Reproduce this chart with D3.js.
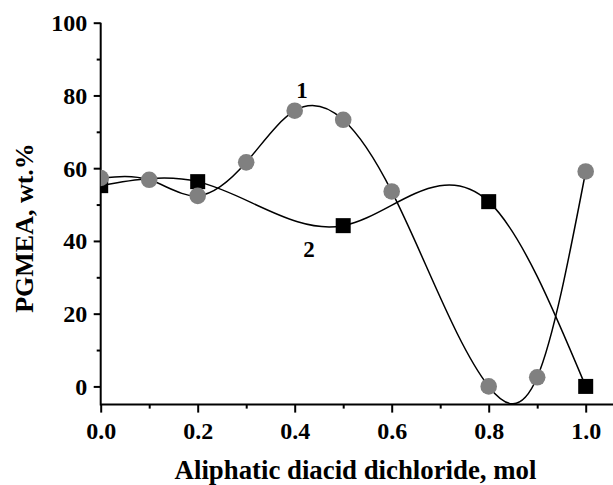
<!DOCTYPE html>
<html>
<head>
<meta charset="utf-8">
<script src="https://cdn.jsdelivr.net/npm/d3@7"></script>
<style>
  body { margin: 0; background: #fff; }
  text { font-family: "Liberation Serif", "Times New Roman", serif; font-weight: bold; }
</style>
</head>
<body>
<div id="chart"></div>
<script>
// series 1 (grey circles) and series 2 (black squares)
const x1 = [0, 0.1, 0.2, 0.3, 0.4, 0.5, 0.6, 0.8, 0.9, 1.0];
const y1 = [57.3, 56.8, 52.4, 61.6, 75.8, 73.3, 53.6, 0, 2.5, 59.1];
const x2 = [0, 0.2, 0.5, 0.8, 1.0];
const y2 = [55.2, 56.3, 44.2, 50.8, 0];
const xMajor = [0, 0.2, 0.4, 0.6, 0.8, 1.0];
const xMinor = [0.1, 0.3, 0.5, 0.7, 0.9];
const yMajor = [0, 20, 40, 60, 80, 100];
const yMinor = [10, 30, 50, 70, 90];

const width = 613, height = 485;
const plotBox = {left: 100.7, right: 585.7, top: 22.7, bottom: 404.6};

// cubic spline through the points with x as the parameter (like Origin's "Spline" line)
function curveSplineX(context) {
  let xs, ys;
  return {
    areaStart() {}, areaEnd() {},
    lineStart() { xs = []; ys = []; },
    point(px, py) { xs.push(+px); ys.push(+py); },
    lineEnd() {
      const n = xs.length;
      if (!n) return;
      context.moveTo(xs[0], ys[0]);
      if (n === 1) return;
      const h = [];
      for (let i = 0; i < n - 1; i++) h[i] = xs[i + 1] - xs[i];
      const M = new Array(n).fill(0);
      if (n > 2) {
        // tridiagonal solve for the inner second derivatives
        const a = [], b = [], c = [], r = [];
        for (let i = 1; i < n - 1; i++) {
          a.push(h[i - 1]);
          b.push(2 * (h[i - 1] + h[i]));
          c.push(h[i]);
          r.push(6 * ((ys[i + 1] - ys[i]) / h[i] - (ys[i] - ys[i - 1]) / h[i - 1]));
        }
        const m = b.length;
        for (let i = 1; i < m; i++) {
          const w = a[i] / b[i - 1];
          b[i] -= w * c[i - 1];
          r[i] -= w * r[i - 1];
        }
        const sol = new Array(m);
        sol[m - 1] = r[m - 1] / b[m - 1];
        for (let i = m - 2; i >= 0; i--) sol[i] = (r[i] - c[i] * sol[i + 1]) / b[i];
        for (let i = 0; i < m; i++) M[i + 1] = sol[i];
      }
      for (let i = 0; i < n - 1; i++) {
        const hh = h[i], s = (ys[i + 1] - ys[i]) / hh;
        const m0 = s - hh * (2 * M[i] + M[i + 1]) / 6;
        const m1 = s + hh * (M[i] + 2 * M[i + 1]) / 6;
        context.bezierCurveTo(
          xs[i] + hh / 3, ys[i] + m0 * hh / 3,
          xs[i + 1] - hh / 3, ys[i + 1] - m1 * hh / 3,
          xs[i + 1], ys[i + 1]);
      }
    }
  };
}

const svg = d3.select('#chart').append('svg')
  .attr('width', width)
  .attr('height', height);

const x = d3.scaleLinear().domain([0, 1]).range([plotBox.left, plotBox.right]);
const y = d3.scaleLinear().domain([-5, 100]).range([plotBox.bottom, plotBox.top]);

svg.append('clipPath').attr('id', 'plot-clip')
  .append('rect')
  .attr('x', plotBox.left).attr('y', 0)
  .attr('width', width - plotBox.left).attr('height', plotBox.bottom);

// axes
const xAxisMajor = d3.axisBottom(x).tickValues(xMajor).tickSize(8).tickFormat(d3.format('.1f'));
const xAxisMinor = d3.axisBottom(x).tickValues(xMinor).tickSize(4).tickFormat('');
const yAxisMajor = d3.axisLeft(y).tickValues(yMajor).tickSize(7);
const yAxisMinor = d3.axisLeft(y).tickValues(yMinor).tickSize(4).tickFormat('');

function styleAxis(g) {
  g.select('.domain').remove();
  g.selectAll('line').attr('stroke', '#000').attr('stroke-width', 2);
  g.selectAll('text').attr('fill', '#000').style('font-size', '24px');
}

const gx = svg.append('g').attr('transform', `translate(0,${plotBox.bottom})`).call(xAxisMajor).call(styleAxis);
gx.selectAll('text').attr('y', 0).attr('dy', null).attr('transform', 'translate(0,34.5)');
svg.append('g').attr('transform', `translate(0,${plotBox.bottom})`).call(xAxisMinor).call(styleAxis);

const gy = svg.append('g').attr('transform', `translate(${plotBox.left},0)`).call(yAxisMajor).call(styleAxis);
gy.selectAll('text').attr('x', -13.5).attr('dy', '0.33em');
svg.append('g').attr('transform', `translate(${plotBox.left},0)`).call(yAxisMinor).call(styleAxis);

svg.append('line')
  .attr('x1', plotBox.left).attr('x2', width)
  .attr('y1', plotBox.bottom).attr('y2', plotBox.bottom)
  .attr('stroke', '#000').attr('stroke-width', 2);
svg.append('line')
  .attr('x1', plotBox.left).attr('x2', plotBox.left)
  .attr('y1', plotBox.top).attr('y2', plotBox.bottom + 1)
  .attr('stroke', '#000').attr('stroke-width', 2);

// axis titles
svg.append('text')
  .attr('x', 355.5)
  .attr('y', 478.5)
  .attr('text-anchor', 'middle')
  .style('font-size', '26.8px')
  .text('Aliphatic diacid dichloride, mol');

svg.append('text')
  .attr('transform', 'translate(33,228) rotate(-90)')
  .attr('text-anchor', 'middle')
  .style('font-size', '26px')
  .text('PGMEA, wt.%');

// curves + markers
const plot = svg.append('g').attr('clip-path', 'url(#plot-clip)');
const d1 = x1.map((v, i) => [v, y1[i]]);
const d2 = x2.map((v, i) => [v, y2[i]]);

const line = d3.line()
  .x(d => x(d[0]))
  .y(d => y(d[1]))
  .curve(curveSplineX);

plot.append('path').datum(d1).attr('d', line)
  .attr('fill', 'none').attr('stroke', '#000').attr('stroke-width', 1.5);
plot.append('path').datum(d2).attr('d', line)
  .attr('fill', 'none').attr('stroke', '#000').attr('stroke-width', 1.5);

plot.selectAll('.sq').data(d2).enter().append('rect')
  .attr('class', 'sq')
  .attr('x', d => x(d[0]) - 7.5).attr('y', d => y(d[1]) - 7.5)
  .attr('width', 15).attr('height', 15)
  .attr('fill', '#000');

plot.selectAll('.dot').data(d1).enter().append('circle')
  .attr('class', 'dot')
  .attr('cx', d => x(d[0])).attr('cy', d => y(d[1]))
  .attr('r', 8.3)
  .attr('fill', '#808080');

// series labels
svg.append('text').attr('x', 302).attr('y', 98).attr('text-anchor', 'middle')
  .style('font-size', '23px').text('1');
svg.append('text').attr('x', 309).attr('y', 257).attr('text-anchor', 'middle')
  .style('font-size', '23px').text('2');
</script>
</body>
</html>
